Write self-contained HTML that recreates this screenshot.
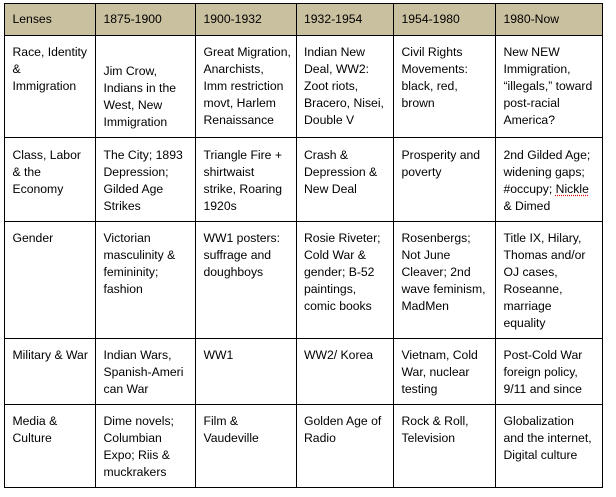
<!DOCTYPE html>
<html>
<head>
<meta charset="utf-8">
<style>
html,body{margin:0;padding:0;background:#fff;}
body{width:616px;height:497px;position:relative;overflow:hidden;font-family:"Liberation Sans",Arial,sans-serif;font-size:12.2px;line-height:17px;color:#000;}
.hdr{position:absolute;left:4px;top:3px;width:599px;height:32px;background:#c9c09f;}
.h{position:absolute;left:4px;width:599px;height:1px;background:#000;}
.v{position:absolute;top:3px;width:1px;height:485px;background:#000;}
.t{position:absolute;white-space:nowrap;}
.u{text-decoration:underline dotted #d00;text-underline-offset:2px;}
</style>
</head>
<body>
<div class="hdr"></div>
<div class="h" style="top:3px"></div>
<div class="h" style="top:35px"></div>
<div class="h" style="top:137px"></div>
<div class="h" style="top:221px"></div>
<div class="h" style="top:338px"></div>
<div class="h" style="top:404px"></div>
<div class="h" style="top:487px"></div>
<div class="v" style="left:4px"></div>
<div class="v" style="left:95px"></div>
<div class="v" style="left:195px"></div>
<div class="v" style="left:296px"></div>
<div class="v" style="left:393px"></div>
<div class="v" style="left:495px"></div>
<div class="v" style="left:602px"></div>

<!-- header -->
<div class="t" style="left:12.5px;top:11px">Lenses</div>
<div class="t" style="left:103.5px;top:11px">1875-1900</div>
<div class="t" style="left:203.5px;top:11px">1900-1932</div>
<div class="t" style="left:304px;top:11px">1932-1954</div>
<div class="t" style="left:401.5px;top:11px">1954-1980</div>
<div class="t" style="left:503.5px;top:11px">1980-Now</div>

<!-- row 1 -->
<div class="t" style="left:12.5px;top:44px">Race, Identity<br>&amp;<br>Immigration</div>
<div class="t" style="left:103.5px;top:63px">Jim Crow,<br>Indians in the<br>West, New<br>Immigration</div>
<div class="t" style="left:203.5px;top:44px">Great Migration,<br>Anarchists,<br>Imm restriction<br>movt, Harlem<br>Renaissance</div>
<div class="t" style="left:304px;top:44px">Indian New<br>Deal, WW2:<br>Zoot riots,<br>Bracero, Nisei,<br>Double V</div>
<div class="t" style="left:401.5px;top:44px">Civil Rights<br>Movements:<br>black, red,<br>brown</div>
<div class="t" style="left:503.5px;top:44px">New NEW<br>Immigration,<br>“illegals,” toward<br>post-racial<br>America?</div>

<!-- row 2 -->
<div class="t" style="left:12.5px;top:147px">Class, Labor<br>&amp; the<br>Economy</div>
<div class="t" style="left:103.5px;top:147px">The City; 1893<br>Depression;<br>Gilded Age<br>Strikes</div>
<div class="t" style="left:203.5px;top:147px">Triangle Fire +<br>shirtwaist<br>strike, Roaring<br>1920s</div>
<div class="t" style="left:304px;top:147px">Crash &amp;<br>Depression &amp;<br>New Deal</div>
<div class="t" style="left:401.5px;top:147px">Prosperity and<br>poverty</div>
<div class="t" style="left:503.5px;top:147px">2nd Gilded Age;<br>widening gaps;<br>#occupy; <span class="u">Nickle</span><br>&amp; Dimed</div>

<!-- row 3 -->
<div class="t" style="left:12.5px;top:230px">Gender</div>
<div class="t" style="left:103.5px;top:230px">Victorian<br>masculinity &amp;<br>femininity;<br>fashion</div>
<div class="t" style="left:203.5px;top:230px">WW1 posters:<br>suffrage and<br>doughboys</div>
<div class="t" style="left:304px;top:230px">Rosie Riveter;<br>Cold War &amp;<br>gender; B-52<br>paintings,<br>comic books</div>
<div class="t" style="left:401.5px;top:230px">Rosenbergs;<br>Not June<br>Cleaver; 2nd<br>wave feminism,<br>MadMen</div>
<div class="t" style="left:503.5px;top:230px">Title IX, Hilary,<br>Thomas and/or<br>OJ cases,<br>Roseanne,<br>marriage<br>equality</div>

<!-- row 4 -->
<div class="t" style="left:12.5px;top:347px">Military &amp; War</div>
<div class="t" style="left:103.5px;top:347px">Indian Wars,<br>Spanish-Ameri<br>can War</div>
<div class="t" style="left:203.5px;top:347px">WW1</div>
<div class="t" style="left:304px;top:347px">WW2/ Korea</div>
<div class="t" style="left:401.5px;top:347px">Vietnam, Cold<br>War, nuclear<br>testing</div>
<div class="t" style="left:503.5px;top:347px">Post-Cold War<br>foreign policy,<br>9/11 and since</div>

<!-- row 5 -->
<div class="t" style="left:12.5px;top:413px">Media &amp;<br>Culture</div>
<div class="t" style="left:103.5px;top:413px">Dime novels;<br>Columbian<br>Expo; Riis &amp;<br>muckrakers</div>
<div class="t" style="left:203.5px;top:413px">Film &amp;<br>Vaudeville</div>
<div class="t" style="left:304px;top:413px">Golden Age of<br>Radio</div>
<div class="t" style="left:401.5px;top:413px">Rock &amp; Roll,<br>Television</div>
<div class="t" style="left:503.5px;top:413px">Globalization<br>and the internet,<br>Digital culture</div>
</body>
</html>
